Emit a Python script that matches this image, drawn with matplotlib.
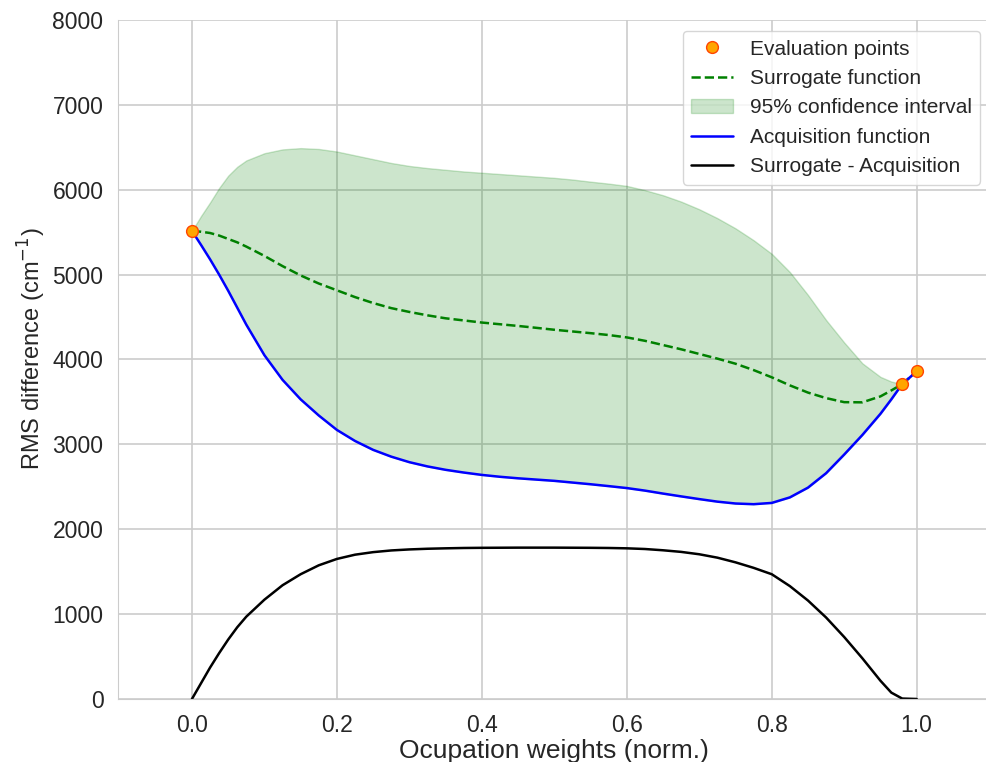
import numpy as np
import matplotlib
matplotlib.use("Agg")
import matplotlib.pyplot as plt
import seaborn as sns

sns.set_style("whitegrid")
plt.rcParams['font.family'] = ['Liberation Sans', 'DejaVu Sans']

# 评估点
eval_x = [0.0, 0.98, 1.0]
eval_y = [5515, 3710, 3860]

# 曲线采样位置
x = [0.0, 0.0125, 0.025, 0.0375, 0.05, 0.0625, 0.075, 0.1, 0.125, 0.15, 0.175,
     0.2, 0.225, 0.25, 0.275, 0.3, 0.325, 0.35, 0.375, 0.4, 0.425, 0.45, 0.475,
     0.5, 0.525, 0.55, 0.575, 0.6, 0.625, 0.65, 0.675, 0.7, 0.725, 0.75, 0.775,
     0.8, 0.825, 0.85, 0.875, 0.9, 0.925, 0.95, 0.965, 0.98, 1.0]

# 代理函数 (均值)
surrogate = [5515, 5505, 5490, 5460, 5420, 5380, 5330, 5220, 5100, 4990, 4895,
             4815, 4735, 4665, 4605, 4560, 4520, 4485, 4460, 4435, 4415, 4395, 4373,
             4350, 4330, 4310, 4288, 4260, 4220, 4170, 4120, 4065, 4010, 3950, 3875,
             3790, 3695, 3610, 3545, 3497, 3495, 3565, 3635, 3710, 3860]

# 置信区间上界
upper = [5515, 5690, 5850, 6020, 6165, 6270, 6345, 6430, 6475, 6490, 6480,
         6450, 6405, 6360, 6315, 6280, 6255, 6235, 6215, 6200, 6185, 6170, 6155,
         6140, 6120, 6095, 6072, 6045, 5995, 5935, 5860, 5770, 5665, 5545, 5405,
         5245, 5030, 4760, 4465, 4200, 3955, 3795, 3740, 3710, 3860]

# 采集函数 (下界)
acquisition = [5515, 5350, 5180, 5000, 4810, 4610, 4410, 4050, 3760, 3530, 3340,
               3170, 3040, 2935, 2855, 2790, 2740, 2700, 2668, 2640, 2618, 2600, 2585,
               2570, 2550, 2530, 2508, 2485, 2455, 2420, 2387, 2355, 2325, 2303, 2295,
               2310, 2375, 2490, 2660, 2880, 3110, 3360, 3530, 3710, 3860]

# 代理 - 采集
difference = [0, 185, 370, 540, 700, 845, 970, 1170, 1340, 1470, 1575,
              1650, 1700, 1730, 1750, 1762, 1770, 1775, 1779, 1781, 1782, 1783, 1783,
              1783, 1782, 1781, 1779, 1775, 1767, 1752, 1733, 1705, 1665, 1610, 1545,
              1470, 1330, 1160, 960, 730, 480, 215, 75, 5, 0]

fig = plt.figure(figsize=(9.86, 7.62), dpi=100)
ax = fig.add_axes([0.1197, 0.0827, 0.8835, 0.8911])

ax.plot(eval_x, eval_y, 'o', color='orange', markeredgecolor='orangered',
        markersize=8.5, label='Evaluation points', zorder=5)
ax.plot(x, surrogate, '--', color='green', lw=1.8, label='Surrogate function')
ax.fill_between(x, acquisition, upper, color='green', alpha=0.2,
                label='95% confidence interval')
ax.plot(x, acquisition, color='blue', lw=1.8, label='Acquisition function')
ax.plot(x, difference, color='black', lw=1.8, label='Surrogate - Acquisition')

ax.set_xlim(-0.102, 1.1)
ax.set_ylim(0, 8000)
ax.set_xticks([0.0, 0.2, 0.4, 0.6, 0.8, 1.0])
ax.tick_params(labelsize=16.5, pad=7)
ax.grid(lw=1.2)
ax.set_xlabel("Ocupation weights (norm.)", fontsize=19, labelpad=2)
ax.set_ylabel("RMS difference (cm$^{-1}$)", fontsize=17)
ax.yaxis.set_label_coords(-0.08, 0.516)
sns.despine(ax=ax)

ax.legend(loc='upper right', bbox_to_anchor=(0.994, 0.959),
          bbox_transform=fig.transFigure, borderaxespad=0, fontsize=15)

plt.savefig("out.png", dpi=100)
